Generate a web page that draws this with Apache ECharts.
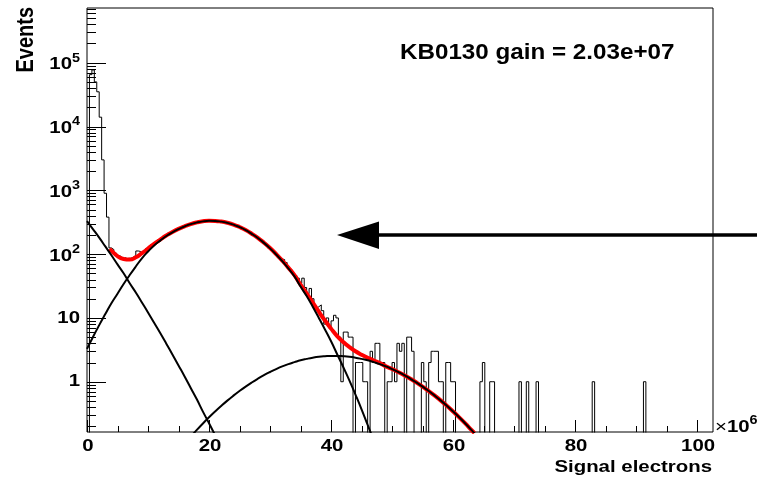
<!DOCTYPE html>
<html><head><meta charset="utf-8">
<script src="https://cdn.jsdelivr.net/npm/echarts@6/dist/echarts.min.js"></script>
<style>html,body{margin:0;padding:0;background:#fff}#c{width:757px;height:479px}</style>
</head><body><div id="c"></div>
<script>
// ---------------- data ----------------
const binWidth = 0.4; // x10^6 electrons per bin
const histCounts = [
  0, 65000, 77000, 50000, 35000, 14000, 3000, 900, 380, 125, 118,
  104, 95, 92, 84, 88, 80, 86, 90, 95, 112,
  110, 100, 108, 122, 124, 140, 143, 150, 168, 170,
  190, 192, 213, 215, 232, 236, 252, 255, 275, 272,
  290, 292, 310, 305, 322, 318, 330, 336, 328, 340,
  338, 326, 335, 322, 318, 320, 305, 308, 290, 286,
  280, 262, 258, 240, 236, 218, 212, 192, 188, 170,
  166, 148, 142, 125, 122, 106, 103, 88, 84, 82,
  74, 60, 57, 50, 46, 42, 35, 42, 30, 24,
  29, 20, 14, 15, 16, 13, 8, 10, 7, 9,
  11, 10, 5, 1, 6, 6, 5, 5, 0, 2,
  2, 2, 1, 1, 0, 3, 2, 4, 4, 2,
  2, 0, 1, 1, 2, 1, 4, 3, 4, 0,
  5, 5, 3, 0, 0, 0, 2, 1, 0, 2,
  3, 3, 3, 1, 1, 0, 2, 2, 1, 1,
  0, 0, 0, 0, 0, 0, 0, 0, 0, 0,
  1, 2, 0, 0, 1, 1, 0, 0, 0, 0,
  0, 0, 0, 0, 0, 0, 1, 0, 0, 1,
  0, 0, 0, 1, 0, 0, 0, 0, 0, 0,
  0, 0, 0, 0, 0, 0, 0, 0, 0, 0,
  0, 0, 0, 0, 0, 0, 1, 0, 0, 0,
  0, 0, 0, 0, 0, 0, 0, 0, 0, 0,
  0, 0, 0, 0, 0, 0, 0, 1, 0, 0,
  0, 0, 0, 0, 0, 0, 0, 0, 0, 0,
  0, 0, 0, 0, 0, 0, 0, 0, 0, 0,
  0, 0, 0, 0, 0, 0
];

// fit components (x in 10^6 electrons, y in events)
const compAx = [0,1,2,3,4,5,6,7,8,9,10,11,12,13,14,15,16,17,18,19,20,21];
const compAy = [330,245,181,132,96,69,50,35,25,17.5,12.2,8.4,5.8,3.95,2.67,1.8,1.21,0.8,0.53,0.34,0.224,0.145];

const compBx = [0,1,2,3,4,5,6,7,8,9,10,11,12,13,14,15,16,17,18,19,20,21,22,23,24,25,26,27,28,29,30,31,32,33,34,35,36,37,38,39,40,41,42,43,44,45,46,47];
const compBy = [3.27,5.08,7.71,11.5,17,24,34,47,64,86,110,137,163,192,220,247,272,295,313,326,332,331,323,309,290,265,238,208,179,150,123,98.6,77.5,59.6,44.8,31,22,15,10,6.6,4.3,2.7,1.7,1.05,0.63,0.37,0.21,0.12];

const compCx = [17,18,19,20,21,22,23,24,25,26,27,28,29,30,31,32,33,34,35,36,37,38,39,40,41,42,43,44,45,46,47,48,49,50,51,52,53,54,55,56,57,58,59,60,61,62,63,64];
const compCy = [0.138,0.176,0.222,0.277,0.342,0.418,0.506,0.605,0.716,0.839,0.972,1.114,1.265,1.42,1.58,1.74,1.89,2.03,2.17,2.28,2.38,2.46,2.51,2.54,2.54,2.51,2.46,2.38,2.28,2.17,2.03,1.89,1.74,1.58,1.42,1.265,1.114,0.972,0.839,0.716,0.605,0.506,0.418,0.342,0.277,0.222,0.176,0.138];

const totalX = [3.7,4,5,6,7,8,9,10,11,12,13,14,15,16,17,18,19,20,21,22,23,24,25,26,27,28,29,30,31,32,33,34,35,36,37,38,39,40,41,42,43,44,45,46,47,48,49,50,51,52,53,54,55,56,57,58,59,60,61,62,63,63.5];
const totalY = [121,113,93,84,82,89,103.5,122,145,169,196,223,249,273,296,314,327,333,331.5,323.4,309.5,290.6,265.7,238.8,209,180,151,124.4,100.2,79.2,61.5,46.8,33.2,24.3,17.4,12.5,9.1,6.8,5.2,4.2,3.5,3.0,2.65,2.38,2.15,1.96,1.74,1.58,1.42,1.265,1.114,0.972,0.839,0.716,0.605,0.506,0.418,0.342,0.277,0.222,0.176,0.157];

const xMajorTicks = [0,20,40,60,80,100];
const xMinorTicks = [5,10,15,25,30,35,45,50,55,65,70,75,85,90,95];
const yMajorTicks = [1,10,100,1000,10000,100000];
const yMinorMantissas = [2,3,4,5,6,7,8,9];
const yMinorDecades = [0.1,1,10,100,1000,10000,100000];

const X_MIN = 0, X_MAX = 102.6;
const Y_MIN = 0.163, Y_MAX = 7.2e5;

const titleText = 'KB0130 gain = 2.03e+07';
const xTitle = 'Signal electrons';
const yTitle = 'Events';

// ---------------- build ----------------
const FONT = '"Liberation Sans", Arial, Helvetica, sans-serif';
const SX = 1.2; // horizontal stretch of the original rendering
const FLOOR = 1e-3;
const histLine = [];
histCounts.forEach((c, i) => {
  const v = c > 0 ? c : FLOOR;
  histLine.push([i * binWidth, v], [(i + 1) * binWidth, v]);
});
const zip = (xs, ys) => xs.map((x, i) => [x, ys[i]]);

const yMinorTicks = [];
yMinorDecades.forEach(d => yMinorMantissas.forEach(m => {
  const v = m * d;
  if (v > Y_MIN && v < Y_MAX) yMinorTicks.push(v);
}));

function tickSeries(values, isX, len) {
  return {
    type: 'custom', silent: true, z: 5, clip: false,
    data: values.map(v => isX ? [v, Y_MIN] : [X_MIN, v]),
    encode: { x: 0, y: 1 },
    renderItem: (params, api) => {
      const p = api.coord([api.value(0), api.value(1)]);
      if (isX) {
        const x = Math.round(p[0]) + 0.5;
        return { type: 'line', shape: { x1: x, y1: p[1], x2: x, y2: p[1] - len }, style: { stroke: '#000', lineWidth: 1 } };
      }
      const y = Math.round(p[1]) + 0.5;
      return { type: 'line', shape: { x1: p[0], y1: y, x2: p[0] + len, y2: y }, style: { stroke: '#000', lineWidth: 1 } };
    }
  };
}

const richY = {
  b: { fontSize: 17, fontWeight: 'bold', fontFamily: FONT, fill: '#000' },
  bb: { fontSize: 17, fontWeight: 'bold', fontFamily: FONT, fill: '#000', verticalAlign: 'bottom', padding: [4, 0, 0, 0] },
  s: { fontSize: 12, fontWeight: 'bold', fontFamily: FONT, fill: '#000', verticalAlign: 'top' }
};

function labelSeries(values, isX) {
  return {
    type: 'custom', silent: true, z: 6, clip: false,
    data: values.map(v => isX ? [v, Y_MIN] : [X_MIN, v]),
    encode: { x: 0, y: 1 },
    renderItem: (params, api) => {
      const p = api.coord([api.value(0), api.value(1)]);
      if (isX) {
        return { type: 'text', x: p[0] + 1, y: p[1] + 14, scaleX: SX,
          style: { text: String(api.value(0)), fontSize: 17, fontWeight: 'bold', fontFamily: FONT, fill: '#000', align: 'center', verticalAlign: 'middle' } };
      }
      const r = Math.round(Math.log10(api.value(1)));
      const txt = r === 0 ? '{b|1}' : (r === 1 ? '{b|10}' : '{bb|10}{s|' + r + '}');
      return { type: 'text', x: p[0] - 7, y: p[1] + (r > 1 ? 0 : 0), scaleX: SX,
        style: { text: txt, rich: richY, align: 'right', verticalAlign: 'middle' } };
    }
  };
}

const chart = echarts.init(document.getElementById('c'), null, { renderer: 'canvas' });
chart.setOption({
  animation: false,
  backgroundColor: '#fff',
  grid: { left: 87, top: 8, width: 626, height: 424, show: true, borderColor: '#000', borderWidth: 1, backgroundColor: 'transparent' },
  xAxis: {
    type: 'value', min: X_MIN, max: X_MAX, interval: 20,
    axisLine: { show: false }, axisTick: { show: false }, splitLine: { show: false }, axisLabel: { show: false }
  },
  yAxis: {
    type: 'log', logBase: 10, min: Y_MIN, max: Y_MAX,
    axisLine: { show: false }, axisTick: { show: false }, splitLine: { show: false }, axisLabel: { show: false }
  },
  series: [
    { type: 'line', data: histLine, symbol: 'none', clip: true, lineStyle: { color: '#000', width: 1 }, z: 2 },
    { type: 'line', data: zip(totalX, totalY), smooth: true, symbol: 'none', clip: true, lineStyle: { color: '#ff0000', width: 4 }, z: 3 },
    { type: 'line', data: zip(compAx, compAy), smooth: true, symbol: 'none', clip: true, lineStyle: { color: '#000', width: 2 }, z: 4 },
    { type: 'line', data: zip(compBx, compBy), smooth: true, symbol: 'none', clip: true, lineStyle: { color: '#000', width: 2 }, z: 4 },
    { type: 'line', data: zip(compCx, compCy), smooth: true, symbol: 'none', clip: true, lineStyle: { color: '#000', width: 2 }, z: 4 },
    tickSeries(xMajorTicks, true, 12),
    tickSeries(xMinorTicks, true, 6),
    tickSeries(yMajorTicks, false, 19),
    tickSeries(yMinorTicks, false, 9),
    labelSeries(xMajorTicks, true),
    labelSeries(yMajorTicks, false)
  ],
  graphic: [
    { type: 'text', x: 400, y: 53, scaleX: 1.1, style: { text: titleText, fontSize: 22, fontWeight: 'bold', fontFamily: FONT, fill: '#000', verticalAlign: 'middle' } },
    { type: 'text', x: 712, y: 467, scaleX: SX, style: { text: xTitle, fontSize: 17, fontWeight: 'bold', fontFamily: FONT, fill: '#000', align: 'right', verticalAlign: 'middle' } },
    { type: 'text', x: 26, y: 7, rotation: Math.PI / 2, scaleY: SX, style: { text: yTitle, fontSize: 20, fontWeight: 'bold', fontFamily: FONT, fill: '#000', align: 'right', verticalAlign: 'middle' } },
    { type: 'text', x: 715, y: 425, scaleX: SX, style: {
        text: '{x|×}{b|10}{s|6}', verticalAlign: 'middle',
        rich: {
          x: { fontSize: 17, fontFamily: FONT, fill: '#000', verticalAlign: 'bottom', padding: [4, 0, 0, 0] },
          b: { fontSize: 17, fontWeight: 'bold', fontFamily: FONT, fill: '#000', verticalAlign: 'bottom', padding: [4, 0, 0, 0] },
          s: { fontSize: 12, fontWeight: 'bold', fontFamily: FONT, fill: '#000', verticalAlign: 'top' }
        } } },
    { type: 'line', shape: { x1: 376, y1: 235, x2: 757, y2: 235 }, style: { stroke: '#000', lineWidth: 3.5 } },
    { type: 'polygon', shape: { points: [[337, 235], [379, 221.5], [379, 249]] }, style: { fill: '#000' } }
  ]
});
</script>
</body></html>
